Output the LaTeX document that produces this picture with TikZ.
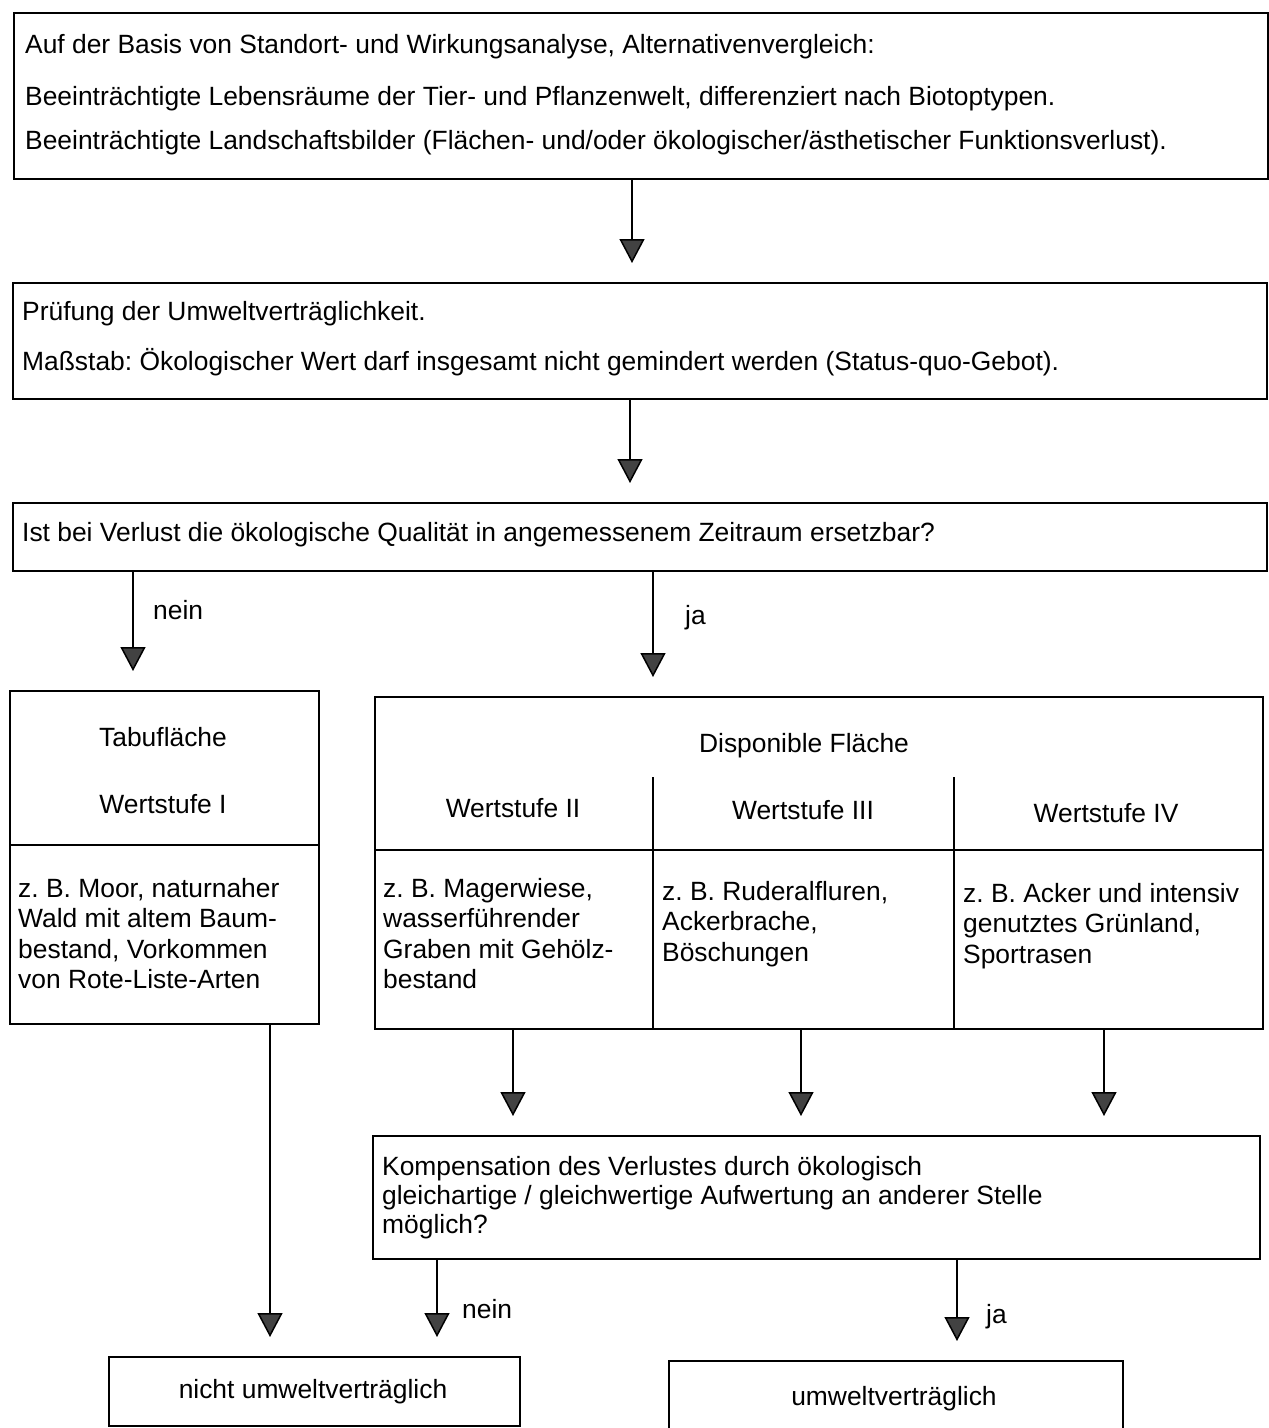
\documentclass[tikz,border=0pt]{standalone}
\usepackage{fontspec}
\setmainfont{Liberation Sans}
\usetikzlibrary{arrows.meta}
\definecolor{tipgray}{RGB}{66,66,66}
\tikzset{
  box/.style={draw, line width=1.5pt, inner sep=0pt, anchor=north west},
  txt/.style={inner sep=0pt, anchor=base west, font=\fontsize{26.4}{30.5}\selectfont},
  ctxt/.style={inner sep=0pt, anchor=base, font=\fontsize{26.4}{30.5}\selectfont},
  cell/.style={inner sep=0pt, anchor=north west, align=left, font=\fontsize{26.4}{30.5}\selectfont},
  flow/.style={line width=1.5pt, -{Triangle[width=25pt,length=24pt,fill=tipgray]}, shorten >=19pt},
}
\frenchspacing
\begin{document}
\begin{tikzpicture}[x=1pt,y=-1pt]
\useasboundingbox (0,0) rectangle (1269,1428);

%Shape: Rectangle [basis]
\node[box, minimum width=1254pt, minimum height=166pt] (basis) at (13,12) {};
% Text Node
\node[txt] (basis1) at (25,53) {Auf der Basis von Standort- und Wirkungsanalyse, Alternativenvergleich:};
\node[txt] (basis2) at (25,105) {Beeinträchtigte Lebensräume der Tier- und Pflanzenwelt, differenziert nach Biotoptypen.};
\node[txt] (basis3) at (25,149) {Beeinträchtigte Landschaftsbilder (Flächen- und/oder ökologischer/ästhetischer Funktionsverlust).};

%Shape: Rectangle [pruefung]
\node[box, minimum width=1254pt, minimum height=116pt] (pruef) at (12,282) {};
% Text Node
\node[txt] (pruef1) at (22,320) {Prüfung der Umweltverträglichkeit.};
\node[txt] (pruef2) at (22,370) {Maßstab: Ökologischer Wert darf insgesamt nicht gemindert werden (Status-quo-Gebot).};

%Shape: Rectangle [frage]
\node[box, minimum width=1254pt, minimum height=68pt] (frage) at (12,502) {};
% Text Node
\node[txt] (frage1) at (22,541) {Ist bei Verlust die ökologische Qualität in angemessenem Zeitraum ersetzbar?};

%Shape: Rectangle [tabu]
\node[box, minimum width=309pt, minimum height=333pt] (tabu) at (9,690) {};
\draw[line width=1.5pt] (tabu.west |- 0,845) -- (tabu.east |- 0,845);
% Text Node
\node[ctxt] (tabu1) at (163,746) {Tabufläche};
\node[ctxt] (tabu2) at (163,813) {Wertstufe I};
\node[cell] (tabu3) at (18,878) {z. B. Moor, naturnaher\\Wald mit altem Baum-\\bestand, Vorkommen\\von Rote-Liste-Arten};

%Shape: Rectangle [disponibel]
\node[box, minimum width=888pt, minimum height=332pt] (dispo) at (374,696) {};
\draw[line width=1.5pt] (dispo.west |- 0,850) -- (dispo.east |- 0,850);
\draw[line width=1.5pt] (653,777) -- (dispo.south -| 653,0);
\draw[line width=1.5pt] (954,777) -- (dispo.south -| 954,0);
% Text Node
\node[ctxt] (dispo0) at (804,752) {Disponible Fläche};
\node[ctxt] (stufe2) at (513,817) {Wertstufe II};
\node[ctxt] (stufe3) at (803,819) {Wertstufe III};
\node[ctxt] (stufe4) at (1106,822) {Wertstufe IV};
\node[cell] (text2) at (383,878) {z. B. Magerwiese,\\wasserführender\\Graben mit Gehölz-\\bestand};
\node[cell] (text3) at (662,881) {z. B. Ruderalfluren,\\Ackerbrache,\\Böschungen};
\node[cell] (text4) at (963,883) {z. B. Acker und intensiv\\genutztes Grünland,\\Sportrasen};

%Shape: Rectangle [kompensation]
\node[box, minimum width=887pt, minimum height=123pt] (komp) at (372,1135) {};
% Text Node
\node[cell, font=\fontsize{26.4}{29}\selectfont] (komp1) at (382,1156) {Kompensation des Verlustes durch ökologisch\\gleichartige / gleichwertige Aufwertung an anderer Stelle\\möglich?};

%Shape: Rectangle [ergebnis]
\node[box, minimum width=411pt, minimum height=69pt] (nicht) at (108,1356) {};
\node[ctxt] (nicht1) at (313,1398) {nicht umweltverträglich};
\node[box, minimum width=454pt, minimum height=90pt] (umwelt) at (668,1360) {};
\node[ctxt] (umwelt1) at (894,1405) {umweltverträglich};

% Arrows
\draw[flow] (basis.south -| 632,0) -- (pruef.north -| 632,0);
\draw[flow] (pruef.south -| 630,0) -- (frage.north -| 630,0);
\draw[flow] (frage.south -| 133,0) -- (tabu.north -| 133,0);
\draw[flow] (frage.south -| 653,0) -- (dispo.north -| 653,0);
\draw[flow] (dispo.south -| 513,0) -- (komp.north -| 513,0);
\draw[flow] (dispo.south -| 801,0) -- (komp.north -| 801,0);
\draw[flow] (dispo.south -| 1104,0) -- (komp.north -| 1104,0);
\draw[flow] (tabu.south -| 270,0) -- (nicht.north -| 270,0);
\draw[flow] (komp.south -| 437,0) -- (nicht.north -| 437,0);
\draw[flow] (komp.south -| 957,0) -- (umwelt.north -| 957,0);

% Labels
\node[txt] (nein1) at (153,619) {nein};
\node[txt] (ja1) at (685,624) {ja};
\node[txt] (nein2) at (462,1318) {nein};
\node[txt] (ja2) at (986,1323) {ja};

\end{tikzpicture}
\end{document}
